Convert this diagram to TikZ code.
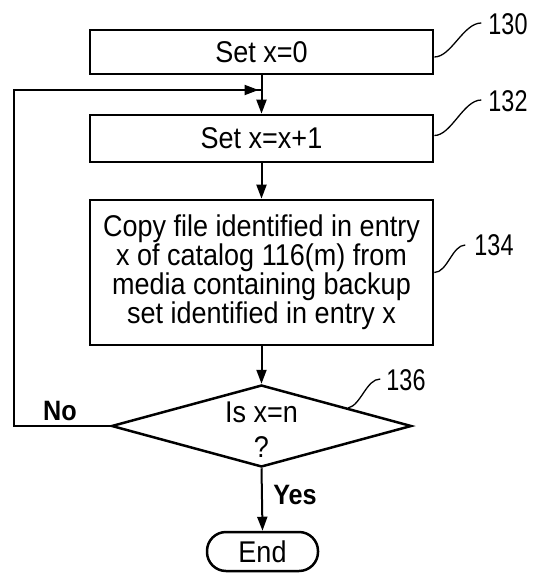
\documentclass[tikz,border=0pt]{standalone}
\usepackage{fontspec}
\setmainfont[FakeStretch=0.9]{Liberation Sans}
\newfontfamily\numfont[FakeStretch=0.78]{Liberation Sans}
\usetikzlibrary{arrows.meta,shapes.geometric,calc}
\begin{document}
\begin{tikzpicture}[x=1pt,y=-1pt,
  boxnode/.style={draw,line width=2.7pt,minimum width=343pt,inner sep=0pt,
    font=\fontsize{30}{27.7}\selectfont,align=center},
  decnode/.style={draw,line width=2.5pt,shape=diamond,aspect=3.66,
    minimum width=300pt,minimum height=82pt,inner sep=0pt,
    font=\fontsize{30}{35}\selectfont,align=center},
  termnode/.style={draw,line width=2.5pt,rounded corners=19pt,minimum width=111pt,
    minimum height=39pt,inner sep=0pt,font=\fontsize{30}{30}\selectfont},
  flow/.style={line width=2pt,-{Triangle[length=14pt,width=10pt]}},
  plain/.style={line width=2pt},
  lead/.style={line width=1.3pt},
  refnum/.style={inner sep=0pt,font=\numfont\fontsize{30}{30}\selectfont},
  yesno/.style={inner sep=0pt,font=\fontsize{28}{28}\selectfont\bfseries}]
\useasboundingbox (0,0) rectangle (534,573);

\node[boxnode,minimum height=44pt] (b130) at (261.5,52) {Set x=0};
\node[boxnode,minimum height=47pt] (b132) at (261.5,138.5) {Set x=x+1};
\node[boxnode,minimum height=145pt] (b134) at (261.5,272.5)
  {Copy file identified in entry\\x of catalog 116(m) from\\media containing backup\\set identified in entry x};
\node[decnode] (dec) at (261.5,426) {\rule{0pt}{27pt}Is x=n\\?};
\node[termnode] (endn) at (262.5,551.5) {End};

\node[refnum] (l130) at (508,24) {130};
\node[refnum] (l132) at (508,101) {132};
\node[refnum] (l134) at (494,245) {134};
\node[refnum] (l136) at (406,380) {136};

\node[yesno] (no) at (60,411) {No};
\node[yesno] (yes) at (295,495) {Yes};

\coordinate (merge) at (b130.south |- 0,90);
\coordinate (loopbl) at (14,0 |- dec.west);
\coordinate (looptl) at (14,90);

\draw[flow] (b130.south) -- (b132.north);
\draw[flow] (b132.south) -- (b134.north);
\draw[flow] (b134.south) -- (dec.north);
\draw[flow] (dec.south) -- (endn.north);
\draw[plain] (dec.west) -- (loopbl) -- (looptl) -- ([xshift=-1pt]merge);
\draw[flow] (looptl) -- ([xshift=-3pt]merge);

\draw[lead] ([yshift=-5pt]b130.east) .. controls +(17,0) and +(-18,0) .. ([xshift=-7pt,yshift=1pt]l130.west);
\draw[lead] ([yshift=3pt]b132.east) .. controls +(17,0) and +(-18,0) .. ([xshift=-7pt,yshift=1pt]l132.west);
\draw[lead] (b134.east) .. controls +(13,0) and +(-13,0) .. ([xshift=-9pt,yshift=0pt]l134.west);
\coordinate (d136) at ($(dec.north)!0.573!(dec.east)$);
\draw[lead] (d136) .. controls +(13,-3) and +(-14,0) .. ([xshift=-6pt,yshift=1pt]l136.west);
\end{tikzpicture}
\end{document}
